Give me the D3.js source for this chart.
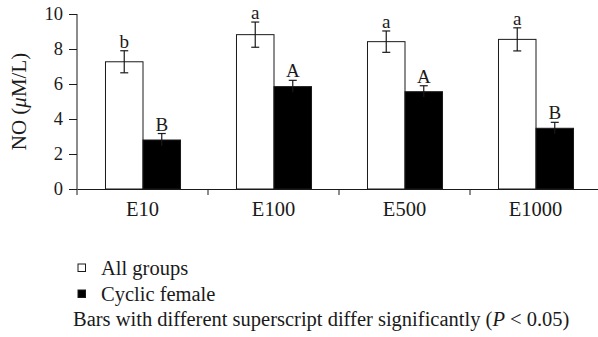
<!DOCTYPE html>
<html>
<head>
<meta charset="utf-8">
<script src="https://cdn.jsdelivr.net/npm/d3@7"></script>
<style>
  html, body { margin: 0; padding: 0; background: #fff; }
  svg { display: block; font-family: "Liberation Serif", "DejaVu Serif", serif; }
  svg text { font-family: "Liberation Serif", "DejaVu Serif", serif; }
</style>
</head>
<body>
<svg id="chart" width="598" height="337"></svg>
<script>
// NO concentration by treatment group
const categories = ["E10", "E100", "E500", "E1000"];
const allGroups = [7.27, 8.82, 8.42, 8.55];
const allGroupsErr = [0.63, 0.72, 0.61, 0.66];
const cyclicFemale = [2.80, 5.85, 5.56, 3.47];
const cyclicFemaleErr = [0.37, 0.36, 0.34, 0.34];
const allGroupsLetters = ["b", "a", "a", "a"];
const cyclicFemaleLetters = ["B", "A", "A", "B"];
const yTicks = [0, 2, 4, 6, 8, 10];
const seriesNames = ["All groups", "Cyclic female"];

const svg = d3.select("#chart");
const ink = "#1a1a1a";

const x = d3.scaleBand().domain(categories).range([77, 601]).padding(0);
const xSub = d3.scaleBand().domain(seriesNames).range([0, x.bandwidth()])
  .paddingInner(0).paddingOuter(0.746);
const y = d3.scaleLinear().domain([0, 10]).range([189, 14]);

// y axis
const yAxis = svg.append("g")
  .attr("transform", "translate(77,0)")
  .call(d3.axisLeft(y).tickValues(yTicks).tickSize(8).tickPadding(6).tickFormat(d3.format("d")));
yAxis.attr("font-family", null);
yAxis.select(".domain").attr("stroke", ink).attr("d", `M0,${y(10)}V${y(0)}`);
yAxis.selectAll(".tick line").attr("stroke", ink);
yAxis.selectAll(".tick text").attr("fill", ink).style("font-size", "18.5px");

// y axis title
const yt = svg.append("text")
  .attr("transform", `translate(26,${(y(0) + y(10)) / 2}) rotate(-90)`)
  .attr("text-anchor", "middle")
  .attr("fill", ink)
  .style("font-size", "21px");
yt.append("tspan").text("NO (");
yt.append("tspan").attr("font-style", "italic").text("\u03bc");
yt.append("tspan").text("M/L)");

// bars
const groups = svg.append("g").selectAll("g")
  .data(categories)
  .join("g")
  .attr("transform", d => `translate(${x(d)},0)`);

const rows = (i) => [
  { key: seriesNames[0], v: allGroups[i], e: allGroupsErr[i], l: allGroupsLetters[i], fill: "#fff" },
  { key: seriesNames[1], v: cyclicFemale[i], e: cyclicFemaleErr[i], l: cyclicFemaleLetters[i], fill: "#000" }
];

groups.each(function (c, i) {
  const g = d3.select(this);
  const data = rows(i);
  g.selectAll("rect")
    .data(data)
    .join("rect")
    .attr("x", d => xSub(d.key) + 0.5)
    .attr("y", d => y(d.v))
    .attr("width", xSub.bandwidth())
    .attr("height", d => y(0) - y(d.v))
    .attr("fill", d => d.fill)
    .attr("stroke", ink)
    .attr("stroke-width", 1);

  const eb = g.selectAll("g.err")
    .data(data)
    .join("g")
    .attr("class", "err")
    .attr("transform", d => `translate(${xSub(d.key) + xSub.bandwidth() / 2 + 0.5},0)`);
  eb.append("line")
    .attr("y1", d => y(d.v + d.e)).attr("y2", d => y(d.v - d.e))
    .attr("stroke", ink).attr("stroke-width", 1.2);
  eb.append("line")
    .attr("x1", -4).attr("x2", 4)
    .attr("y1", d => y(d.v + d.e)).attr("y2", d => y(d.v + d.e))
    .attr("stroke", ink).attr("stroke-width", 1.2);
  eb.append("line")
    .attr("x1", -4).attr("x2", 4)
    .attr("y1", d => y(d.v - d.e)).attr("y2", d => y(d.v - d.e))
    .attr("stroke", d => d.fill === "#000" ? "#000" : ink).attr("stroke-width", 1.2);
  eb.append("text")
    .attr("y", d => y(d.v + d.e) - 3)
    .attr("text-anchor", "middle")
    .attr("fill", ink)
    .style("font-size", "19px")
    .text(d => d.l);
});

// x axis
const xAxis = svg.append("g")
  .attr("transform", `translate(0,${y(0)})`)
  .call(d3.axisBottom(x).tickSize(0).tickPadding(12));
xAxis.attr("font-family", null);
xAxis.select(".domain").attr("stroke", ink);
xAxis.selectAll(".tick text").attr("fill", ink).style("font-size", "20.5px");
// separators between categories
xAxis.selectAll("line.sep")
  .data(categories)
  .join("line")
  .attr("class", "sep")
  .attr("x1", d => x(d)).attr("x2", d => x(d))
  .attr("y1", 0).attr("y2", 6)
  .attr("stroke", ink);

// legend
const legend = svg.append("g");
const legendY = [274.5, 300.5];
seriesNames.forEach((name, i) => {
  legend.append("rect")
    .attr("x", 78).attr("y", legendY[i] - 10.5)
    .attr("width", 7.5).attr("height", 7.5)
    .attr("fill", i === 0 ? "#fff" : "#000")
    .attr("stroke", ink);
  legend.append("text")
    .attr("x", 101).attr("y", legendY[i])
    .attr("fill", ink)
    .style("font-size", "20.5px")
    .text(name);
});
const note = legend.append("text")
  .attr("x", 73).attr("y", 326)
  .attr("fill", ink)
  .style("font-size", "20.5px");
note.append("tspan").text("Bars with different superscript differ significantly (");
note.append("tspan").attr("font-style", "italic").text("P");
note.append("tspan").text(" < 0.05)");
</script>
</body>
</html>
